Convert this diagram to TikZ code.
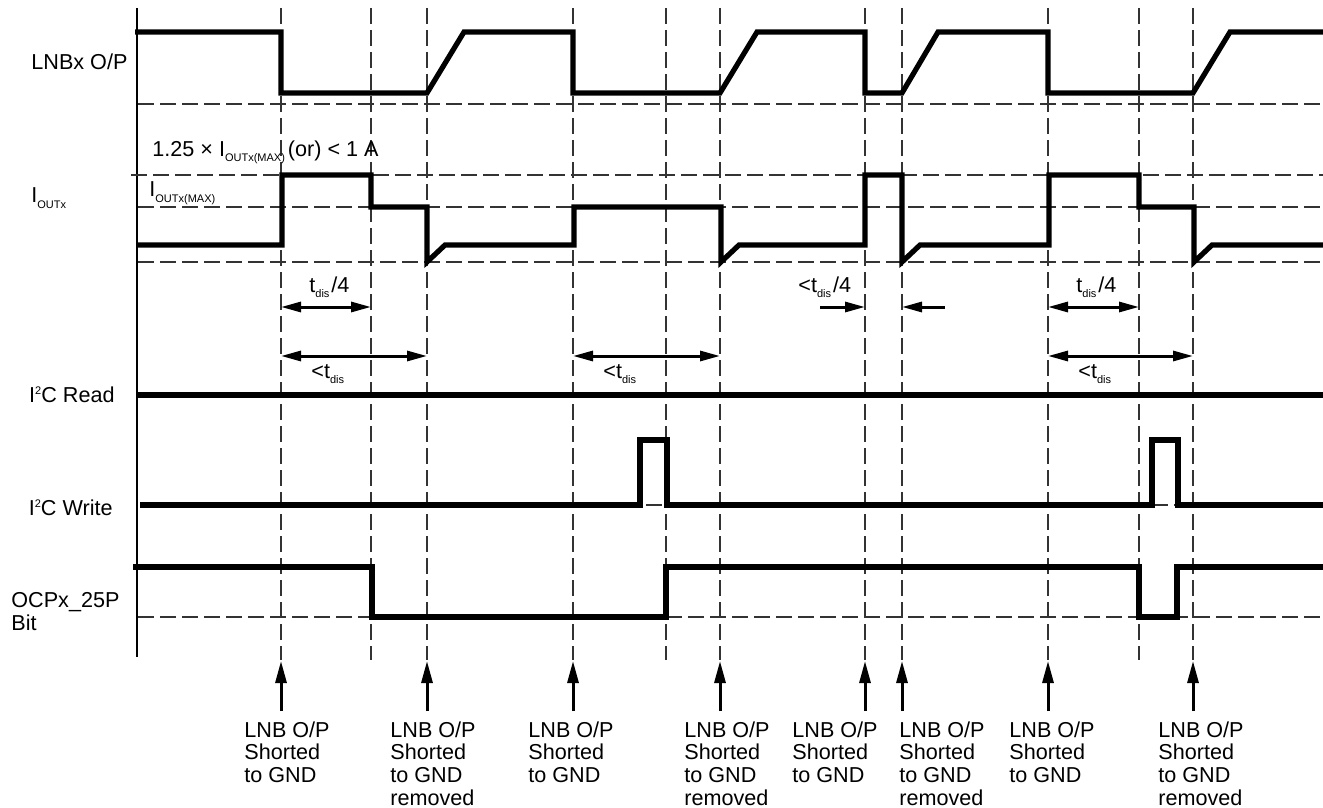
\documentclass[tikz,border=0pt]{standalone}
\usepackage{fontspec}
\setmainfont{Liberation Sans}
\usetikzlibrary{arrows.meta}

% small lowered / raised text (subscripts, superscripts)
\newcommand{\lowtxt}[1]{\raisebox{-2.5pt}{\fontsize{5.5}{6}\selectfont #1}}
\newcommand{\hightxt}[1]{\raisebox{4pt}{\fontsize{5.5}{6}\selectfont #1}}

\begin{document}
\begin{tikzpicture}[x=0.5pt, y=-0.5pt,
  every node/.style={inner sep=0pt, font=\fontsize{10.8}{11.4}\selectfont},
  sig/.style={line width=2.6pt, line join=miter},
  guide/.style={line width=0.6pt, draw=black!80, dash pattern=on 8pt off 3pt},
  dimarrow/.style={line width=1.5pt, {Triangle[length=10pt,width=5pt]}-{Triangle[length=10pt,width=5pt]}},
  onearrow/.style={line width=1.5pt, -{Triangle[length=10pt,width=5pt]}},
  evarrow/.style={line width=1.5pt, -{Triangle[length=11pt,width=5.5pt]}}]
  \useasboundingbox (0,0) rectangle (1323,808);

  % signal levels
  \pgfmathsetmacro{\lnbH}{32}
  \pgfmathsetmacro{\lnbL}{93}
  \pgfmathsetmacro{\iTop}{175}
  \pgfmathsetmacro{\iMax}{207}
  \pgfmathsetmacro{\iLow}{245}
  \pgfmathsetmacro{\iDip}{262}

  % time axis
  \draw[line width=0.8pt] (137,8) -- (137,657);

  % vertical guides
  \foreach \t in {281,371,427,573,666,720,865,902,1048,1139,1193}
    \draw[guide] (\t,8) -- (\t,660);

  % horizontal guides
  \draw[guide] (138,104) -- (1323,104);
  \draw[guide] (131,\iTop) -- (1323,\iTop);
  \draw[guide] (138,\iMax) -- (1323,\iMax);
  \draw[guide] (138,\iDip) -- (1323,\iDip);
  \draw[guide] (140,505) -- (1323,505);
  \draw[guide] (138,617) -- (1323,617);

  % LNBx O/P
  \draw[sig] (135,\lnbH) -- (281,\lnbH) -- (281,\lnbL) -- (427,\lnbL) -- (464,\lnbH)
    -- (573,\lnbH) -- (573,\lnbL) -- (720,\lnbL) -- (757,\lnbH) -- (865,\lnbH)
    -- (865,\lnbL) -- (902,\lnbL) -- (938,\lnbH) -- (1048,\lnbH) -- (1048,\lnbL)
    -- (1193,\lnbL) -- (1230,\lnbH) -- (1323,\lnbH);

  % IOUTx
  \draw[sig] (137,\iLow) -- (282,\iLow) -- (282,\iTop) -- (371,\iTop) -- (371,\iMax)
    -- (427,\iMax) -- (427,\iDip) -- (445,\iLow) -- (574,\iLow) -- (574,\iMax)
    -- (721,\iMax) -- (721,\iDip) -- (739,\iLow) -- (865,\iLow) -- (865,\iTop)
    -- (902,\iTop) -- (902,\iDip) -- (920,\iLow) -- (1049,\iLow) -- (1049,\iTop)
    -- (1139,\iTop) -- (1139,\iMax) -- (1194,\iMax) -- (1194,\iDip) -- (1212,\iLow)
    -- (1323,\iLow);

  % I2C read / write
  \draw[sig] (137,395) -- (1323,395);
  \draw[sig] (140,505) -- (640,505) -- (640,440) -- (667,440) -- (667,505)
    -- (1152,505) -- (1152,440) -- (1178,440) -- (1178,505) -- (1323,505);

  % OCPx_25P bit
  \draw[sig] (133,567) -- (372,567) -- (372,617) -- (666,617) -- (666,567)
    -- (1139,567) -- (1139,617) -- (1177,617) -- (1177,567) -- (1323,567);

  % row labels
  \node[anchor=base west] (lnb) at (31,70) {LNBx O/P};
  \node[anchor=base west] (iout) at (31,203) {I\lowtxt{OUTx}};
  \node[anchor=base west] (ilim) at (152,156) {1.25 × I\lowtxt{OUTx(MAX)}\kern1.5pt(or) < 1 A};
  \node[anchor=base west] (imax) at (149,197) {I\lowtxt{OUTx(MAX)}};
  \node[anchor=base east] (rd) at (115,402) {I\hightxt{2}C Read};
  \node[anchor=base east] (wr) at (113,515) {I\hightxt{2}C Write};
  \node[anchor=north west, align=left] (ocp) at (11,592) {OCPx\_25P\\Bit};

  % timing marks
  \coordinate (a1) at (281,307);  \coordinate (a2) at (371,307);
  \coordinate (b1) at (281,356);  \coordinate (b2) at (427,356);
  \coordinate (c1) at (573,356);  \coordinate (c2) at (720,356);
  \coordinate (d1) at (820,307);  \coordinate (d2) at (865,307);
  \coordinate (d3) at (945,307);  \coordinate (d4) at (902,307);
  \coordinate (e1) at (1048,307); \coordinate (e2) at (1139,307);
  \coordinate (f1) at (1048,356); \coordinate (f2) at (1193,356);
  \draw[dimarrow] (a1) -- (a2);
  \draw[dimarrow] (b1) -- (b2);
  \draw[dimarrow] (c1) -- (c2);
  \draw[onearrow] (d1) -- (d2);
  \draw[onearrow] (d3) -- (d4);
  \draw[dimarrow] (e1) -- (e2);
  \draw[dimarrow] (f1) -- (f2);
  \node[anchor=base west] (ta) at (309,292) {t\lowtxt{dis}\kern1pt/4};
  \node[anchor=base west] (tb) at (311,378) {<t\lowtxt{dis}};
  \node[anchor=base west] (tc) at (603,378) {<t\lowtxt{dis}};
  \node[anchor=base west] (td) at (798,292) {<t\lowtxt{dis}\kern1pt/4};
  \node[anchor=base west] (te) at (1076,292) {t\lowtxt{dis}\kern1pt/4};
  \node[anchor=base west] (tf) at (1078,378) {<t\lowtxt{dis}};

  % events
  \foreach \t/\n in {281/1,427/2,573/3,720/4,865/5,902/6,1048/7,1193/8} {
    \coordinate (ev\n) at (\t,661);
    \coordinate (evb\n) at (\t,711);
    \draw[evarrow] (evb\n) -- (ev\n);
  }
  \node[anchor=north west, align=left] (l1) at (244,721) {LNB O/P\\Shorted\\to GND};
  \node[anchor=north west, align=left] (l2) at (390,721) {LNB O/P\\Shorted\\to GND\\removed};
  \node[anchor=north west, align=left] (l3) at (528,721) {LNB O/P\\Shorted\\to GND};
  \node[anchor=north west, align=left] (l4) at (684,721) {LNB O/P\\Shorted\\to GND\\removed};
  \node[anchor=north west, align=left] (l5) at (792,721) {LNB O/P\\Shorted\\to GND};
  \node[anchor=north west, align=left] (l6) at (899,721) {LNB O/P\\Shorted\\to GND\\removed};
  \node[anchor=north west, align=left] (l7) at (1009,721) {LNB O/P\\Shorted\\to GND};
  \node[anchor=north west, align=left] (l8) at (1158,721) {LNB O/P\\Shorted\\to GND\\removed};
\end{tikzpicture}
\end{document}
